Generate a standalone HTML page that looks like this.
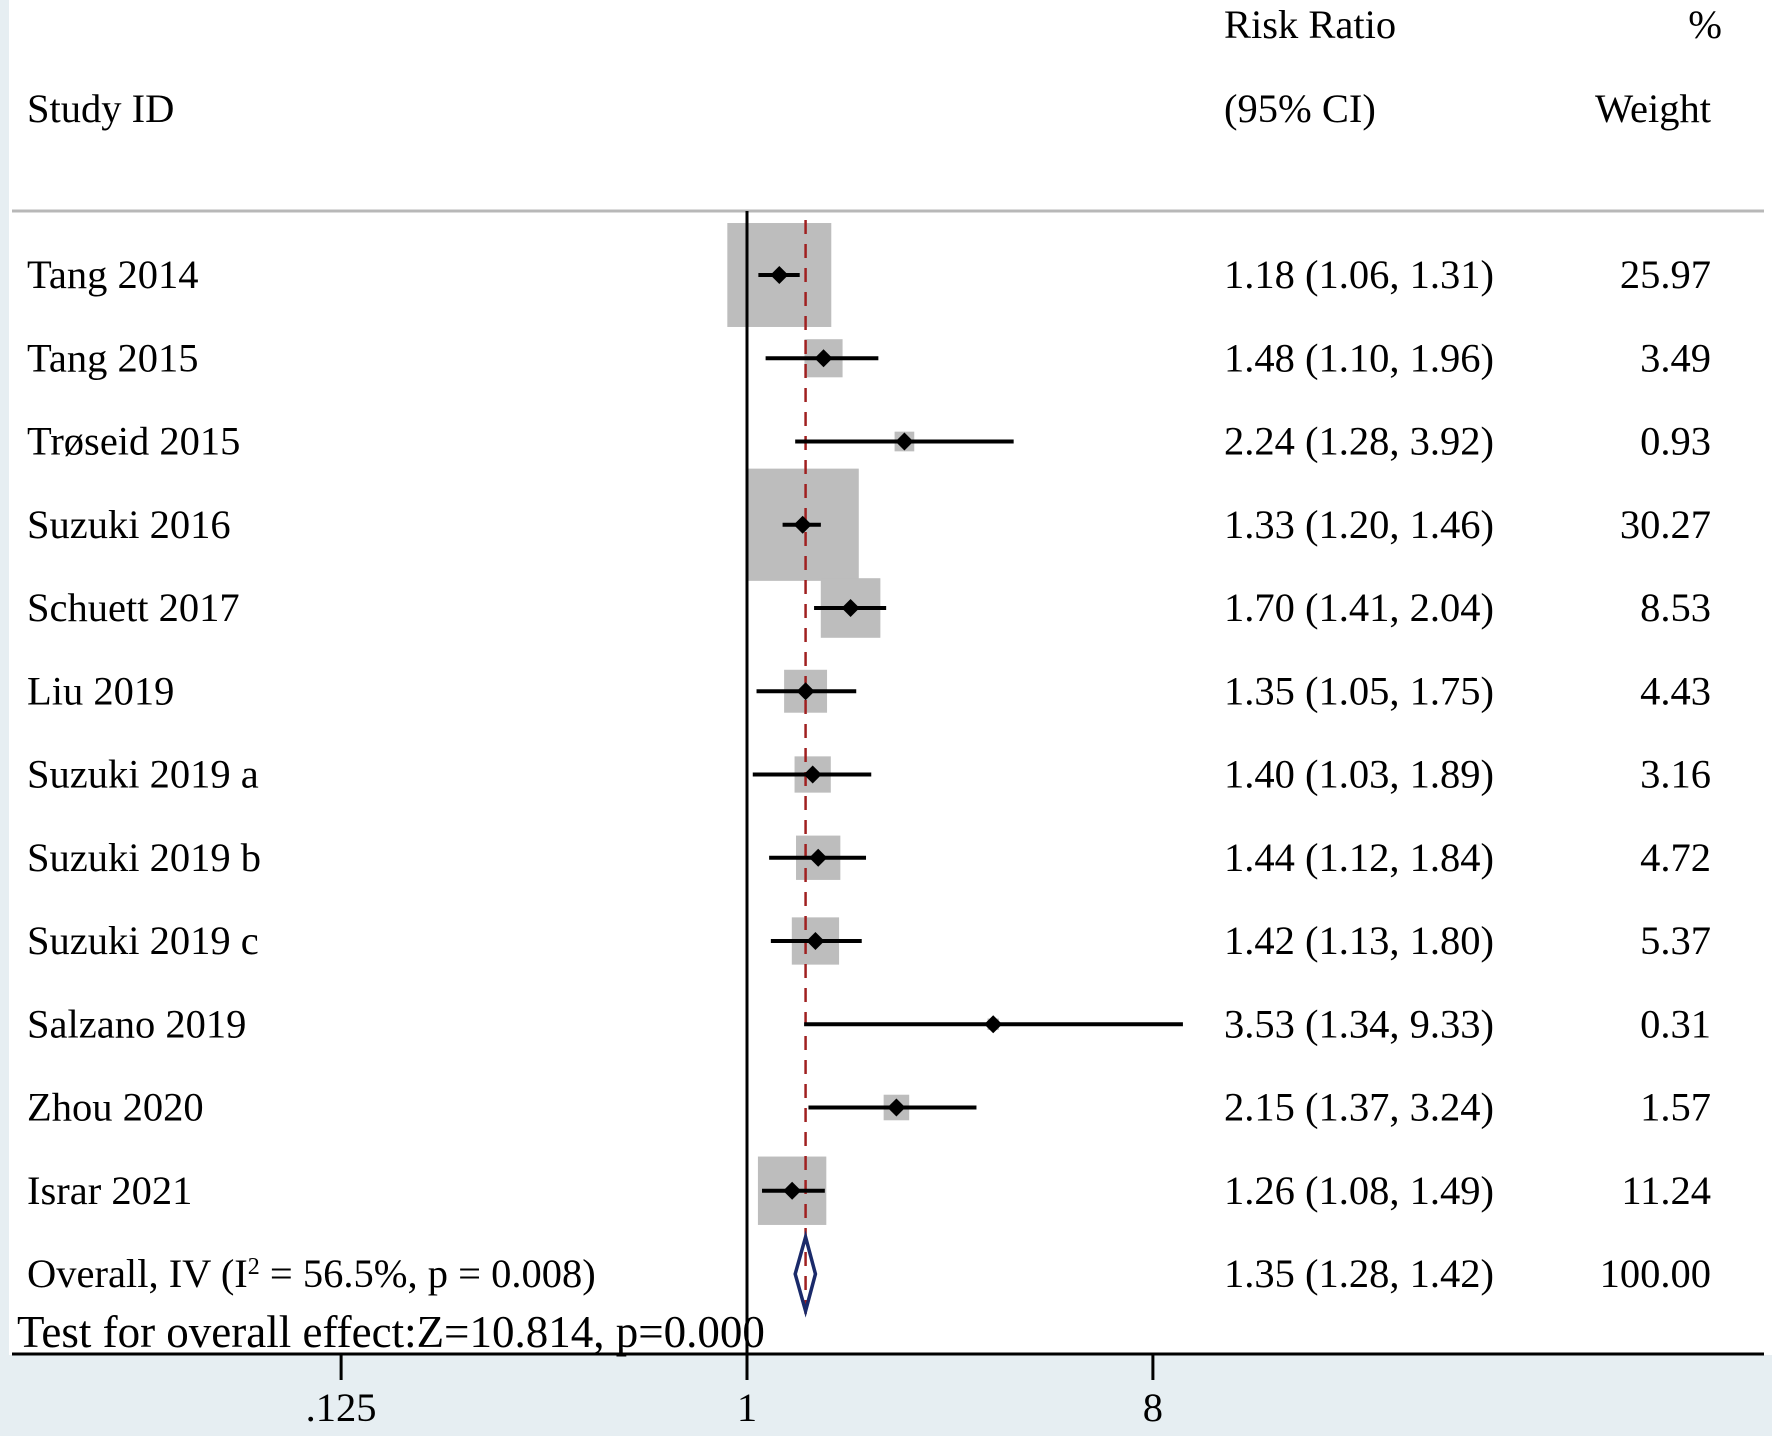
<!DOCTYPE html>
<html><head><meta charset="utf-8"><style>
html,body{margin:0;padding:0;background:#fff}
svg{display:block}
text{font-family:"Liberation Serif",serif;fill:#000}
</style></head><body>
<svg id="chart" width="1772" height="1436" viewBox="0 0 1772 1436" xmlns="http://www.w3.org/2000/svg">
<rect x="0" y="0" width="1772" height="1436" fill="#fff"/>
<rect x="0" y="0" width="9" height="1436" fill="#e6eef2"/>
<rect x="0" y="1355" width="1772" height="81" fill="#e6eef2"/>
<line x1="12" y1="211" x2="1764" y2="211" stroke="#b8b8b8" stroke-width="3"/>
<text x="27" y="122" font-size="40.5">Study ID</text>
<text x="1224" y="38" font-size="40.5">Risk Ratio</text>
<text x="1224" y="122" font-size="40.5">(95% CI)</text>
<text x="1722" y="38" font-size="40.5" text-anchor="end">%</text>
<text x="1711" y="122" font-size="40.5" text-anchor="end">Weight</text>
<g id="marks"></g>
<line x1="12" y1="1354" x2="1764" y2="1354" stroke="#000" stroke-width="3"/>
<g id="axis"></g>
<text x="17" y="1347" font-size="45">Test for overall effect:Z=10.814, p=0.000</text>
</svg>
<script>
const studies=["Tang 2014","Tang 2015","Trøseid 2015","Suzuki 2016","Schuett 2017","Liu 2019","Suzuki 2019 a","Suzuki 2019 b","Suzuki 2019 c","Salzano 2019","Zhou 2020","Israr 2021"];
const rr=[1.18,1.48,2.24,1.33,1.70,1.35,1.40,1.44,1.42,3.53,2.15,1.26];
const lo=[1.06,1.10,1.28,1.20,1.41,1.05,1.03,1.12,1.13,1.34,1.37,1.08];
const hi=[1.31,1.96,3.92,1.46,2.04,1.75,1.89,1.84,1.80,9.33,3.24,1.49];
const weights=[25.97,3.49,0.93,30.27,8.53,4.43,3.16,4.72,5.37,0.31,1.57,11.24];
const overall=[1.35,1.28,1.42];
const ticks=[0.125,1,8];
const tickLabels=[".125","1","8"];
const NS="http://www.w3.org/2000/svg";
const xs=v=>747+135.3*Math.log2(v);
const ys=i=>275+83.25*i;
const mk=(t,a,p)=>{const e=document.createElementNS(NS,t);for(const k in a)e.setAttribute(k,a[k]);(p||document.getElementById('marks')).appendChild(e);return e;};
const f2=v=>v.toFixed(2);
const FS=40.5;
studies.forEach((s,i)=>{
  const side=20.4*Math.sqrt(weights[i]);
  const b=mk('rect',{x:xs(rr[i])-side/2,y:ys(i)-side/2,width:side,height:side,fill:'#bdbdbd'});
  
  
});
const nl=mk('line',{x1:xs(1),y1:211,x2:xs(1),y2:1354,stroke:'#000','stroke-width':3});


const ol=mk('line',{x1:xs(overall[0]),y1:220,x2:xs(overall[0]),y2:1315,stroke:'#a02020','stroke-width':2.5,'stroke-dasharray':'14 10'});


studies.forEach((s,i)=>{
  const y=ys(i);
  const l=mk('line',{x1:xs(lo[i]),y1:y,x2:xs(hi[i]),y2:y,stroke:'#000','stroke-width':4});
  
  
  const x=xs(rr[i]);
  const d=mk('polygon',{points:`${x-9},${y} ${x},${y-9} ${x+9},${y} ${x},${y+9}`,fill:'#000'});
  
  
  const t1=mk('text',{x:27,y:y+13,'font-size':FS});t1.textContent=s;
  
  
  const t2=mk('text',{x:1224,y:y+13,'font-size':FS});t2.textContent=`${f2(rr[i])} (${f2(lo[i])}, ${f2(hi[i])})`;
  
  
  const t3=mk('text',{x:1711,y:y+13,'font-size':FS,'text-anchor':'end'});t3.textContent=f2(weights[i]);
  
  
});
const oy=ys(12);
const dm=mk('polygon',{points:`${xs(overall[1])},${oy} ${xs(overall[0])},${oy-37} ${xs(overall[2])},${oy} ${xs(overall[0])},${oy+37}`,fill:'none',stroke:'#1a2a6a','stroke-width':3.5});


const ot=mk('text',{x:27,y:oy+13,'font-size':FS});ot.innerHTML='Overall, IV (I<tspan baseline-shift="super" font-size="24">2</tspan> = 56.5%, p = 0.008)';


const oc=mk('text',{x:1224,y:oy+13,'font-size':FS});oc.textContent=`${f2(overall[0])} (${f2(overall[1])}, ${f2(overall[2])})`;


const ow=mk('text',{x:1711,y:oy+13,'font-size':FS,'text-anchor':'end'});ow.textContent='100.00';


const ax=document.getElementById('axis');
ticks.forEach((v,i)=>{
  const tk=mk('line',{x1:xs(v),y1:1354,x2:xs(v),y2:1380,stroke:'#000','stroke-width':3},ax);
  
  
  const tl=mk('text',{x:xs(v),y:1421,'font-size':FS,'text-anchor':'middle'},ax);tl.textContent=tickLabels[i];
  
  
});
</script>
</body></html>
